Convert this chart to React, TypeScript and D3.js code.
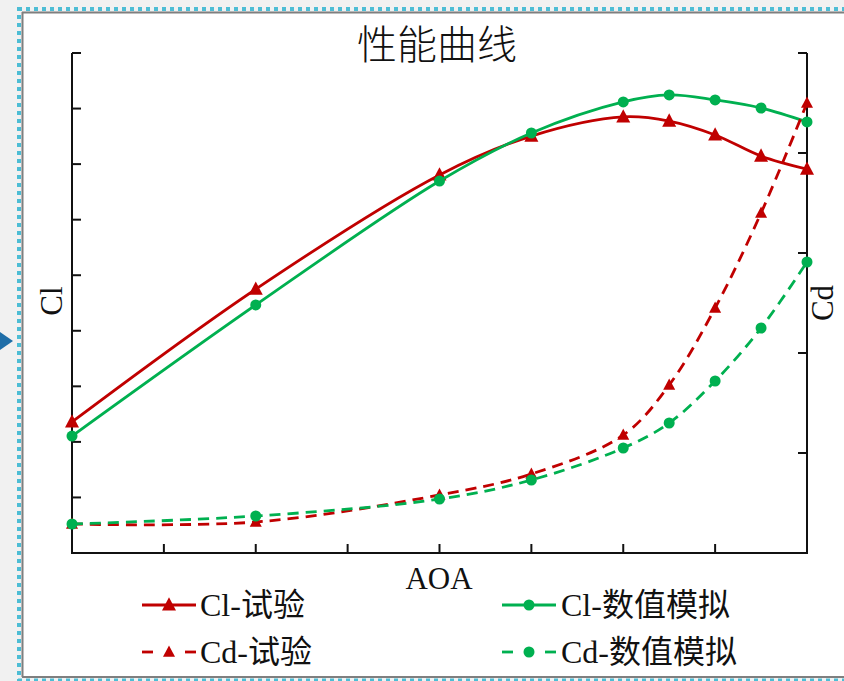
import React from "react";
import * as d3 from "d3";

// AOA positions of the samples (x axis has no labels, ticks every 2)
const aoa = [0, 4, 8, 10, 12, 13, 14, 15, 16];
const aoaTicks = [0, 2, 4, 6, 8, 10, 12, 14, 16];

const clTest = [0.472, 0.95, 1.361, 1.501, 1.57, 1.555, 1.505, 1.429, 1.382];
const clSim = [0.421, 0.893, 1.339, 1.512, 1.624, 1.649, 1.631, 1.602, 1.552];
const cdTest = [0.0145, 0.0155, 0.029, 0.0395, 0.059, 0.084, 0.1225, 0.17, 0.225];
const cdSim = [0.0145, 0.0185, 0.027, 0.0365, 0.0525, 0.065, 0.086, 0.1125, 0.1455];

const clTicks = [0, 0.2, 0.4, 0.6, 0.8, 1.0, 1.2, 1.4, 1.6, 1.8];
const cdTicks = [0, 0.05, 0.1, 0.15, 0.2, 0.25];

const RED = "#c00000";
const GREEN = "#00b050";
const LATIN = "'Liberation Serif', 'Noto Sans CJK SC', serif";

const W = 844;
const H = 681;
const left = 72;
const right = 807;
const top = 53;
const bottom = 553;

const x = d3.scaleLinear().domain([0, 16]).range([left, right]);
const yCl = d3.scaleLinear().domain([0, 1.8]).range([bottom, top]);
const yCd = d3.scaleLinear().domain([0, 0.25]).range([bottom, top]);

const tri = (cx: number, cy: number, s: number) =>
  `M${cx},${cy - s * 0.55}L${cx + s / 2},${cy + s * 0.4}L${cx - s / 2},${cy + s * 0.4}Z`;

const series = [
  { name: "Cl-试验", vals: clTest, y: yCl, color: RED, dash: "", marker: "tri" },
  { name: "Cl-数值模拟", vals: clSim, y: yCl, color: GREEN, dash: "", marker: "dot" },
  { name: "Cd-试验", vals: cdTest, y: yCd, color: RED, dash: "11 7", marker: "tri" },
  { name: "Cd-数值模拟", vals: cdSim, y: yCd, color: GREEN, dash: "11 7", marker: "dot" },
];

const legendPos = [
  { lx: 142, ly: 605 },
  { lx: 502, ly: 605 },
  { lx: 142, ly: 652 },
  { lx: 502, ly: 652 },
];

const Marker = ({ kind, cx, cy, color, small }: any) =>
  kind === "tri" ? (
    <path d={tri(cx, cy, small ? 12 : 14)} fill={color} />
  ) : (
    <circle cx={cx} cy={cy} r={5.5} fill={color} />
  );

export default function App() {
  return (
    <svg
      width={W}
      height={H}
      style={{ position: "absolute", left: 0, top: 0 }}
      xmlns="http://www.w3.org/2000/svg"
    >
      <rect x={0} y={0} width={W} height={H} fill="#f1f1f1" />
      <rect x={22} y={12} width={W} height={665} fill="#fff" />
      {/* frame */}
      <line x1={22} y1={12.5} x2={W} y2={12.5} stroke="#7f7f7f" strokeWidth={2} />
      <line x1={22.5} y1={12} x2={22.5} y2={677} stroke="#7f7f7f" strokeWidth={2} />
      <line x1={22} y1={677} x2={W} y2={677} stroke="#7f7f7f" strokeWidth={2} />
      <line x1={18} y1={9} x2={W} y2={9} stroke="#4dbdd5" strokeWidth={4} strokeDasharray="4 4" />
      <line x1={19} y1={7} x2={19} y2={H} stroke="#4dbdd5" strokeWidth={4} strokeDasharray="4 4" />
      <line x1={18} y1={680} x2={W} y2={680} stroke="#4dbdd5" strokeWidth={3} strokeDasharray="4 4" />
      <path d="M0,332L13,341L0,350Z" fill="#1f6ea8" />

      {/* title */}
      <text
        x={437}
        y={59}
        textAnchor="middle"
        fontFamily="'Noto Sans CJK SC', sans-serif"
        fontSize={40}
        fontWeight={300}
        fill="#111"
      >
        性能曲线
      </text>

      {/* axes */}
      <g stroke="#111" strokeWidth={2} fill="none">
        <line x1={left} y1={top} x2={left} y2={bottom + 1} />
        <line x1={right} y1={top} x2={right} y2={bottom + 1} />
        <line x1={left - 1} y1={bottom} x2={right + 1} y2={bottom} />
        {clTicks.map((t) => (
          <line key={"l" + t} x1={left} x2={left + 9} y1={yCl(t)} y2={yCl(t)} />
        ))}
        {cdTicks.map((t) => (
          <line key={"r" + t} x1={right} x2={right - 9} y1={yCd(t)} y2={yCd(t)} />
        ))}
        {aoaTicks.map((t) => (
          <line key={"b" + t} x1={x(t)} x2={x(t)} y1={bottom} y2={bottom - 9} />
        ))}
      </g>

      <text
        transform={`translate(62,301) rotate(-90)`}
        textAnchor="middle"
        fontFamily={LATIN}
        fontSize={31}
        fill="#111"
      >
        Cl
      </text>
      <text
        transform={`translate(833,303) rotate(-90)`}
        textAnchor="middle"
        fontFamily={LATIN}
        fontSize={31}
        fill="#111"
      >
        Cd
      </text>
      <text x={439} y={589} textAnchor="middle" fontFamily={LATIN} fontSize={31} fill="#111">
        AOA
      </text>

      {/* series */}
      {series.map((s) => {
        const pts = aoa.map((a, i) => [x(a), s.y(s.vals[i])] as [number, number]);
        const line = d3.line().curve(d3.curveCatmullRom.alpha(0.5));
        return (
          <g key={s.name}>
            <path
              d={line(pts) || ""}
              fill="none"
              stroke={s.color}
              strokeWidth={2.8}
              strokeDasharray={s.dash || undefined}
            />
            {pts.map(([px, py], i) => (
              <Marker
                key={i}
                kind={s.marker}
                cx={px}
                cy={py}
                color={s.color}
                small={s.dash !== ""}
              />
            ))}
          </g>
        );
      })}

      {/* legend */}
      {series.map((s, i) => {
        const { lx, ly } = legendPos[i];
        const mid = lx + 27;
        return (
          <g key={"lg" + s.name}>
            {s.dash ? (
              <g stroke={s.color} strokeWidth={2.8}>
                <line x1={lx} x2={lx + 11} y1={ly} y2={ly} />
                <line x1={lx + 43} x2={lx + 54} y1={ly} y2={ly} />
              </g>
            ) : (
              <line x1={lx} x2={lx + 54} y1={ly} y2={ly} stroke={s.color} strokeWidth={2.8} />
            )}
            <Marker kind={s.marker} cx={mid} cy={ly} color={s.color} small={s.dash !== ""} />
            <text
              x={lx + (i % 2 === 0 ? 58 : 59)}
              y={ly + 11}
              fontFamily={LATIN}
              fontSize={32}
              fill="#111"
            >
              {s.name}
            </text>
          </g>
        );
      })}
    </svg>
  );
}
